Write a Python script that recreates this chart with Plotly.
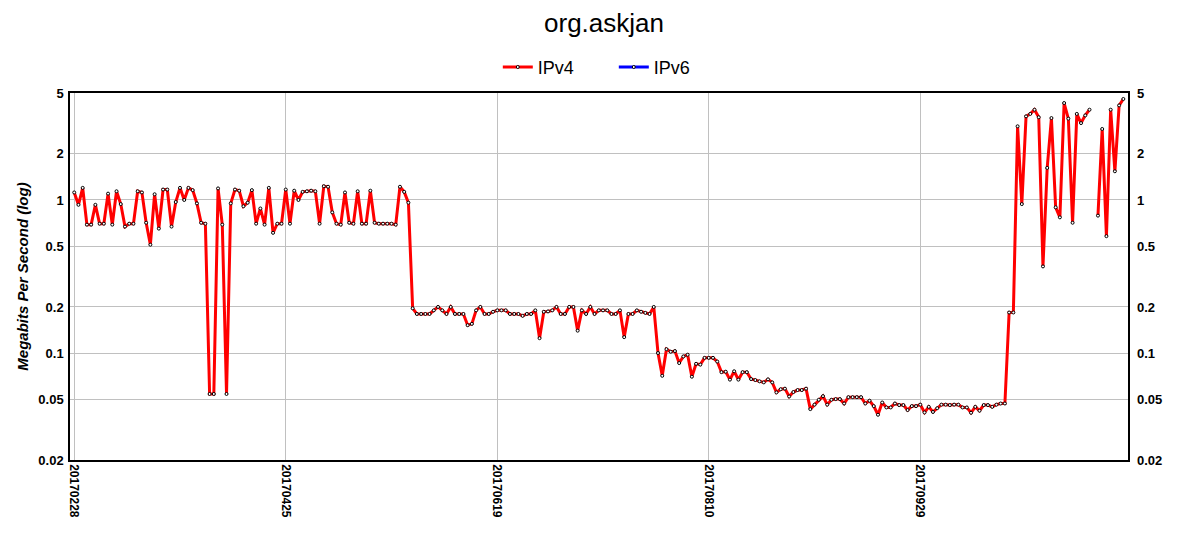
import math
import plotly.graph_objects as go

title_text = "org.askjan"
series_names = ["IPv4", "IPv6"]
y_title = "Megabits Per Second (log)"
date_tick_labels = ["20170228", "20170425", "20170619", "20170810", "20170929"]
samples_per_date_tick = 50
y_tick_values = [0.02, 0.05, 0.1, 0.2, 0.5, 1, 2, 5]
y_tick_labels = ["0.02", "0.05", "0.1", "0.2", "0.5", "1", "2", "5"]

ipv4_mbps = [
    # samples 0-49
    1.12, 0.93, 1.2, 0.69, 0.69, 0.93, 0.70, 0.70, 1.1, 0.69,
    1.14, 0.94, 0.67, 0.70, 0.70, 1.14, 1.12, 0.71, 0.51, 1.09,
    0.65, 1.17, 1.17, 0.67, 0.97, 1.2, 1.0, 1.2, 1.16, 0.95,
    0.71, 0.70, 0.054, 0.054, 1.19, 0.69, 0.054, 0.95, 1.17, 1.15,
    0.91, 0.96, 1.16, 0.70, 0.88, 0.69, 1.2, 0.61, 0.70, 0.70,
    # samples 50-99
    1.17, 0.70, 1.15, 1.0, 1.13, 1.14, 1.15, 1.14, 0.70, 1.23,
    1.22, 0.83, 0.70, 0.69, 1.12, 0.71, 0.70, 1.14, 0.70, 0.70,
    1.15, 0.71, 0.70, 0.70, 0.70, 0.70, 0.69, 1.22, 1.13, 0.96,
    0.196, 0.18, 0.18, 0.18, 0.18, 0.19, 0.20, 0.19, 0.18, 0.20,
    0.18, 0.18, 0.18, 0.152, 0.155, 0.19, 0.20, 0.18, 0.18, 0.186,
    # samples 100-149
    0.19, 0.19, 0.19, 0.18, 0.18, 0.18, 0.175, 0.18, 0.18, 0.19,
    0.125, 0.186, 0.187, 0.19, 0.20, 0.18, 0.18, 0.20, 0.20, 0.14,
    0.19, 0.18, 0.20, 0.18, 0.19, 0.19, 0.19, 0.18, 0.18, 0.19,
    0.127, 0.18, 0.18, 0.19, 0.186, 0.183, 0.18, 0.20, 0.10, 0.071,
    0.106, 0.102, 0.103, 0.086, 0.095, 0.0975, 0.070, 0.085, 0.084, 0.093,
    # samples 150-199
    0.093, 0.093, 0.088, 0.075, 0.0755, 0.067, 0.076, 0.067, 0.075, 0.075,
    0.0676, 0.0666, 0.0653, 0.0643, 0.0673, 0.0643, 0.0553, 0.058, 0.0585, 0.052,
    0.0556, 0.0573, 0.0573, 0.0585, 0.043, 0.046, 0.0495, 0.0523, 0.046, 0.0495,
    0.05, 0.05, 0.0468, 0.0515, 0.0515, 0.0515, 0.0515, 0.0468, 0.0488, 0.045,
    0.0395, 0.0475, 0.0441, 0.0441, 0.0468, 0.0457, 0.0457, 0.0424, 0.045, 0.045,
    # samples 200-248
    0.046, 0.0409, 0.0445, 0.0412, 0.0436, 0.046, 0.046, 0.0457, 0.046, 0.046,
    0.0441, 0.0441, 0.0407, 0.0445, 0.042, 0.0457, 0.0457, 0.0445, 0.046, 0.0468,
    0.0468, 0.184, 0.184, 3.03, 0.94, 3.52, 3.65, 3.89, 3.47, 0.368,
    1.62, 3.43, 0.895, 0.77, 4.3, 3.40, 0.71, 3.65, 3.18, 3.57,
    3.89, None, 0.79, 2.91, 0.58, 3.89, 1.54, 4.15, 4.57,
]
ipv6_mbps = [None] * len(ipv4_mbps)

sample_index = list(range(len(ipv4_mbps)))
date_tick_positions = sample_index[::samples_per_date_tick][:len(date_tick_labels)]

series_colors = ["#ff0000", "#0000ff"]
FONT = "Liberation Sans, Arial, sans-serif"

fig = go.Figure()
for name, values, color in zip(series_names, [ipv4_mbps, ipv6_mbps], series_colors):
    fig.add_trace(go.Scatter(
        x=sample_index, y=values, name=name, mode="lines+markers",
        line=dict(color=color, width=3),
        marker=dict(size=3, color="white", line=dict(color="black", width=1)),
        connectgaps=False,
    ))

# invisible mirror trace to carry the right-hand axis
fig.add_trace(go.Scatter(
    x=sample_index, y=ipv4_mbps, yaxis="y2", mode="lines",
    line=dict(width=0, color="rgba(0,0,0,0)"), showlegend=False, hoverinfo="skip",
))

y_range = [math.log10(y_tick_values[0]), math.log10(y_tick_values[-1])]
tick_font = dict(family=FONT, size=13, color="black", weight="bold")

# the page body adds an 8px offset, so the figure is 8px smaller on each side
fig.update_layout(
    width=1192, height=542,
    paper_bgcolor="white", plot_bgcolor="white",
    margin=dict(l=62, r=72, t=85, b=90, autoexpand=False),
    title=dict(text=title_text, x=0.5, xanchor="center", y=0.972, yanchor="middle",
               font=dict(family=FONT, size=26, color="black")),
    legend=dict(orientation="h", x=0.514, xanchor="center", y=1.07, yanchor="middle",
                font=dict(family=FONT, size=18, color="black"), itemwidth=30,
                entrywidth=71),
    showlegend=True,
    xaxis=dict(
        range=[-1, sample_index[-1] + 1.1], automargin=False,
        tickmode="array", tickvals=date_tick_positions, ticktext=date_tick_labels,
        tickangle=90, tickfont=dict(family=FONT, size=12, color="black", weight="bold"),
        showgrid=True, gridcolor="#c0c0c0", gridwidth=1,
        showline=True, linecolor="black", linewidth=1.5, mirror=True,
        zeroline=False, ticks="",
    ),
    yaxis=dict(
        type="log", range=y_range, automargin=False,
        tickmode="array", tickvals=y_tick_values, ticktext=y_tick_labels,
        tickfont=tick_font, ticklabelstandoff=2,
        title=dict(text=y_title, font=dict(family=FONT, size=15, color="black",
                                           weight="bold", style="italic"), standoff=6),
        showgrid=True, gridcolor="#c0c0c0", gridwidth=1,
        showline=True, linecolor="black", linewidth=1.5, mirror=True,
        zeroline=False, ticks="",
    ),
    yaxis2=dict(
        type="log", range=y_range, overlaying="y", side="right", automargin=False,
        tickmode="array", tickvals=y_tick_values, ticktext=y_tick_labels,
        tickfont=tick_font, ticklabelstandoff=8, showgrid=False, zeroline=False,
        ticks="", showline=False,
    ),
)

fig.write_html("out.html")
